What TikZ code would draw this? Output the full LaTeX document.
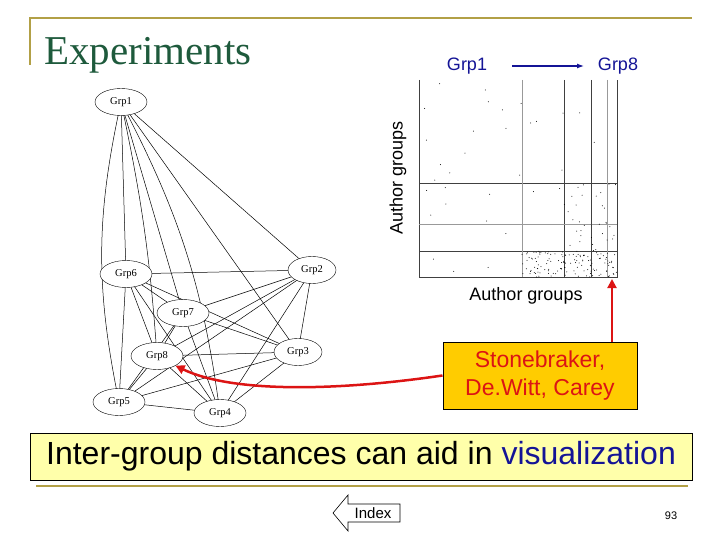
\documentclass[tikz,border=0pt]{standalone}
\usepackage{fontspec}
\setmainfont{Liberation Sans}
\newfontfamily\serifx{Liberation Serif}
\usetikzlibrary{arrows.meta,shapes.geometric}
\definecolor{gold}{RGB}{178,160,70}
\definecolor{ttl}{RGB}{30,90,60}
\definecolor{ybox}{RGB}{255,255,170}
\definecolor{obox}{RGB}{255,204,0}
\definecolor{rd}{RGB}{220,20,20}
\definecolor{bl}{RGB}{20,20,150}
\begin{document}
\begin{tikzpicture}[x=1pt,y=-1pt,
 grp/.style={draw,ellipse,minimum width=52pt,minimum height=27pt,inner sep=0pt,font=\serifx\fontsize{10.5}{12}\selectfont,fill=white},
 ed/.style={line width=0.5pt},
 grid/.style={line width=0.6pt,black!75}]
\useasboundingbox (0,0) rectangle (720,540);
% frame
\draw[gold,line width=1.5pt] (30,65) -- (30,18) -- (692,18);
\node[anchor=base west,font=\serifx\fontsize{41}{45}\selectfont,text=ttl,inner sep=0] (title) at (44,65) {Experiments};
% graph nodes
\coordinate (c1) at (121,102);
\coordinate (c6) at (126,274);
\coordinate (c2) at (312,270);
\coordinate (c7) at (183,313);
\coordinate (c8) at (157,356);
\coordinate (c3) at (298,352);
\coordinate (c5) at (119,402);
\coordinate (c4) at (220,413);
\begin{scope}[ed]
\draw (c1) to[bend right=12] (c5);
\draw (c1) -- (c6);
\draw (c1) to[bend left=4] (c8);
\draw (c1) -- (c7);
\draw (c1) to[bend left=10] (c4);
\draw (c1) -- (c3);
\draw (c1) -- (c2);
\foreach \a/\b in {6/2,6/5,6/8,6/7,6/3,6/4,2/7,2/8,2/5,2/4,2/3,7/5,7/8,7/4,7/3,8/5,8/4,8/3,3/5,3/4,5/4}
  \draw (c\a) -- (c\b);
\end{scope}
\node[grp] (g1) at (c1) {Grp1};
\node[grp] (g6) at (c6) {Grp6};
\node[grp,minimum width=48pt] (g2) at (c2) {Grp2};
\node[grp] (g7) at (c7) {Grp7};
\node[grp] (g8) at (c8) {Grp8};
\node[grp,minimum width=48pt] (g3) at (c3) {Grp3};
\node[grp] (g5) at (c5) {Grp5};
\node[grp] (g4) at (c4) {Grp4};
% matrix
\draw[grid] (419,80) -- (419,277) -- (617,277) -- (617,80);
\foreach \x in {564,591} \draw[grid] (\x,80) -- (\x,277);
\foreach \y in {183,251} \draw[grid] (419,\y) -- (617,\y);
\draw[grid,black!40] (522,80) -- (522,277);
\draw[grid,black!40] (607,80) -- (607,277);
\draw[grid,black!40] (419,224) -- (617,224);
\pgfmathsetseed{7}
\foreach \i in {1,...,40} {\fill (419+198*rnd,80+197*rnd) circle (0.5pt);}
\foreach \i in {1,...,120} {\fill (522+95*rnd,251+26*rnd) circle (0.5pt);}
\foreach \i in {1,...,40} {\fill (564+53*rnd,183+94*rnd) circle (0.5pt);}
\node[font=\fontsize{18}{20}\selectfont,text=bl] (ga) at (467,66) {Grp1};
\node[font=\fontsize{18}{20}\selectfont,text=bl] (gb) at (618,66) {Grp8};
\draw[bl,line width=1.2pt,-{Latex[length=7pt,width=5pt]}] (512,66) -- (584,66);
\node[font=\fontsize{18}{20}\selectfont,rotate=90] (lv) at (398,178) {Author groups};
\node[font=\fontsize{18}{20}\selectfont] (lh) at (526,296) {Author groups};
% callout
\node[draw,line width=1pt,fill=obox,text=rd,minimum width=194pt,minimum height=67pt,align=center,font=\fontsize{23}{28}\selectfont] (sb) at (540,375.5) {Stonebraker,\\De.Witt, Carey};
\coordinate (mt) at (612,279);
\draw[rd,line width=2pt,-{Triangle[length=9pt,width=9pt]}] (sb.north -| mt) -- (mt);
\draw[rd,line width=2.5pt,-{Triangle[length=9pt,width=9pt]}] (sb.west) .. controls (330,392) and (230,392) .. (g8.south east);
% bottom
\node[draw,fill=ybox,minimum width=662pt,minimum height=47pt,font=\fontsize{32}{36}\selectfont] (msg) at (361,456.5) {Inter-group distances can aid in \textcolor{bl}{visualization}};
\draw[gold,line width=2pt] (36,486) -- (688,486);
\draw[fill=white,line width=0.6pt] (400,504) -- (348,504) -- (348,495) -- (333,513) -- (348,531) -- (348,522) -- (400,522) -- cycle;
\node[font=\fontsize{15}{17}\selectfont] (ixt) at (373,513) {Index};
\node[font=\fontsize{11}{13}\selectfont] (pg) at (671,516) {93};
\end{tikzpicture}
\end{document}
